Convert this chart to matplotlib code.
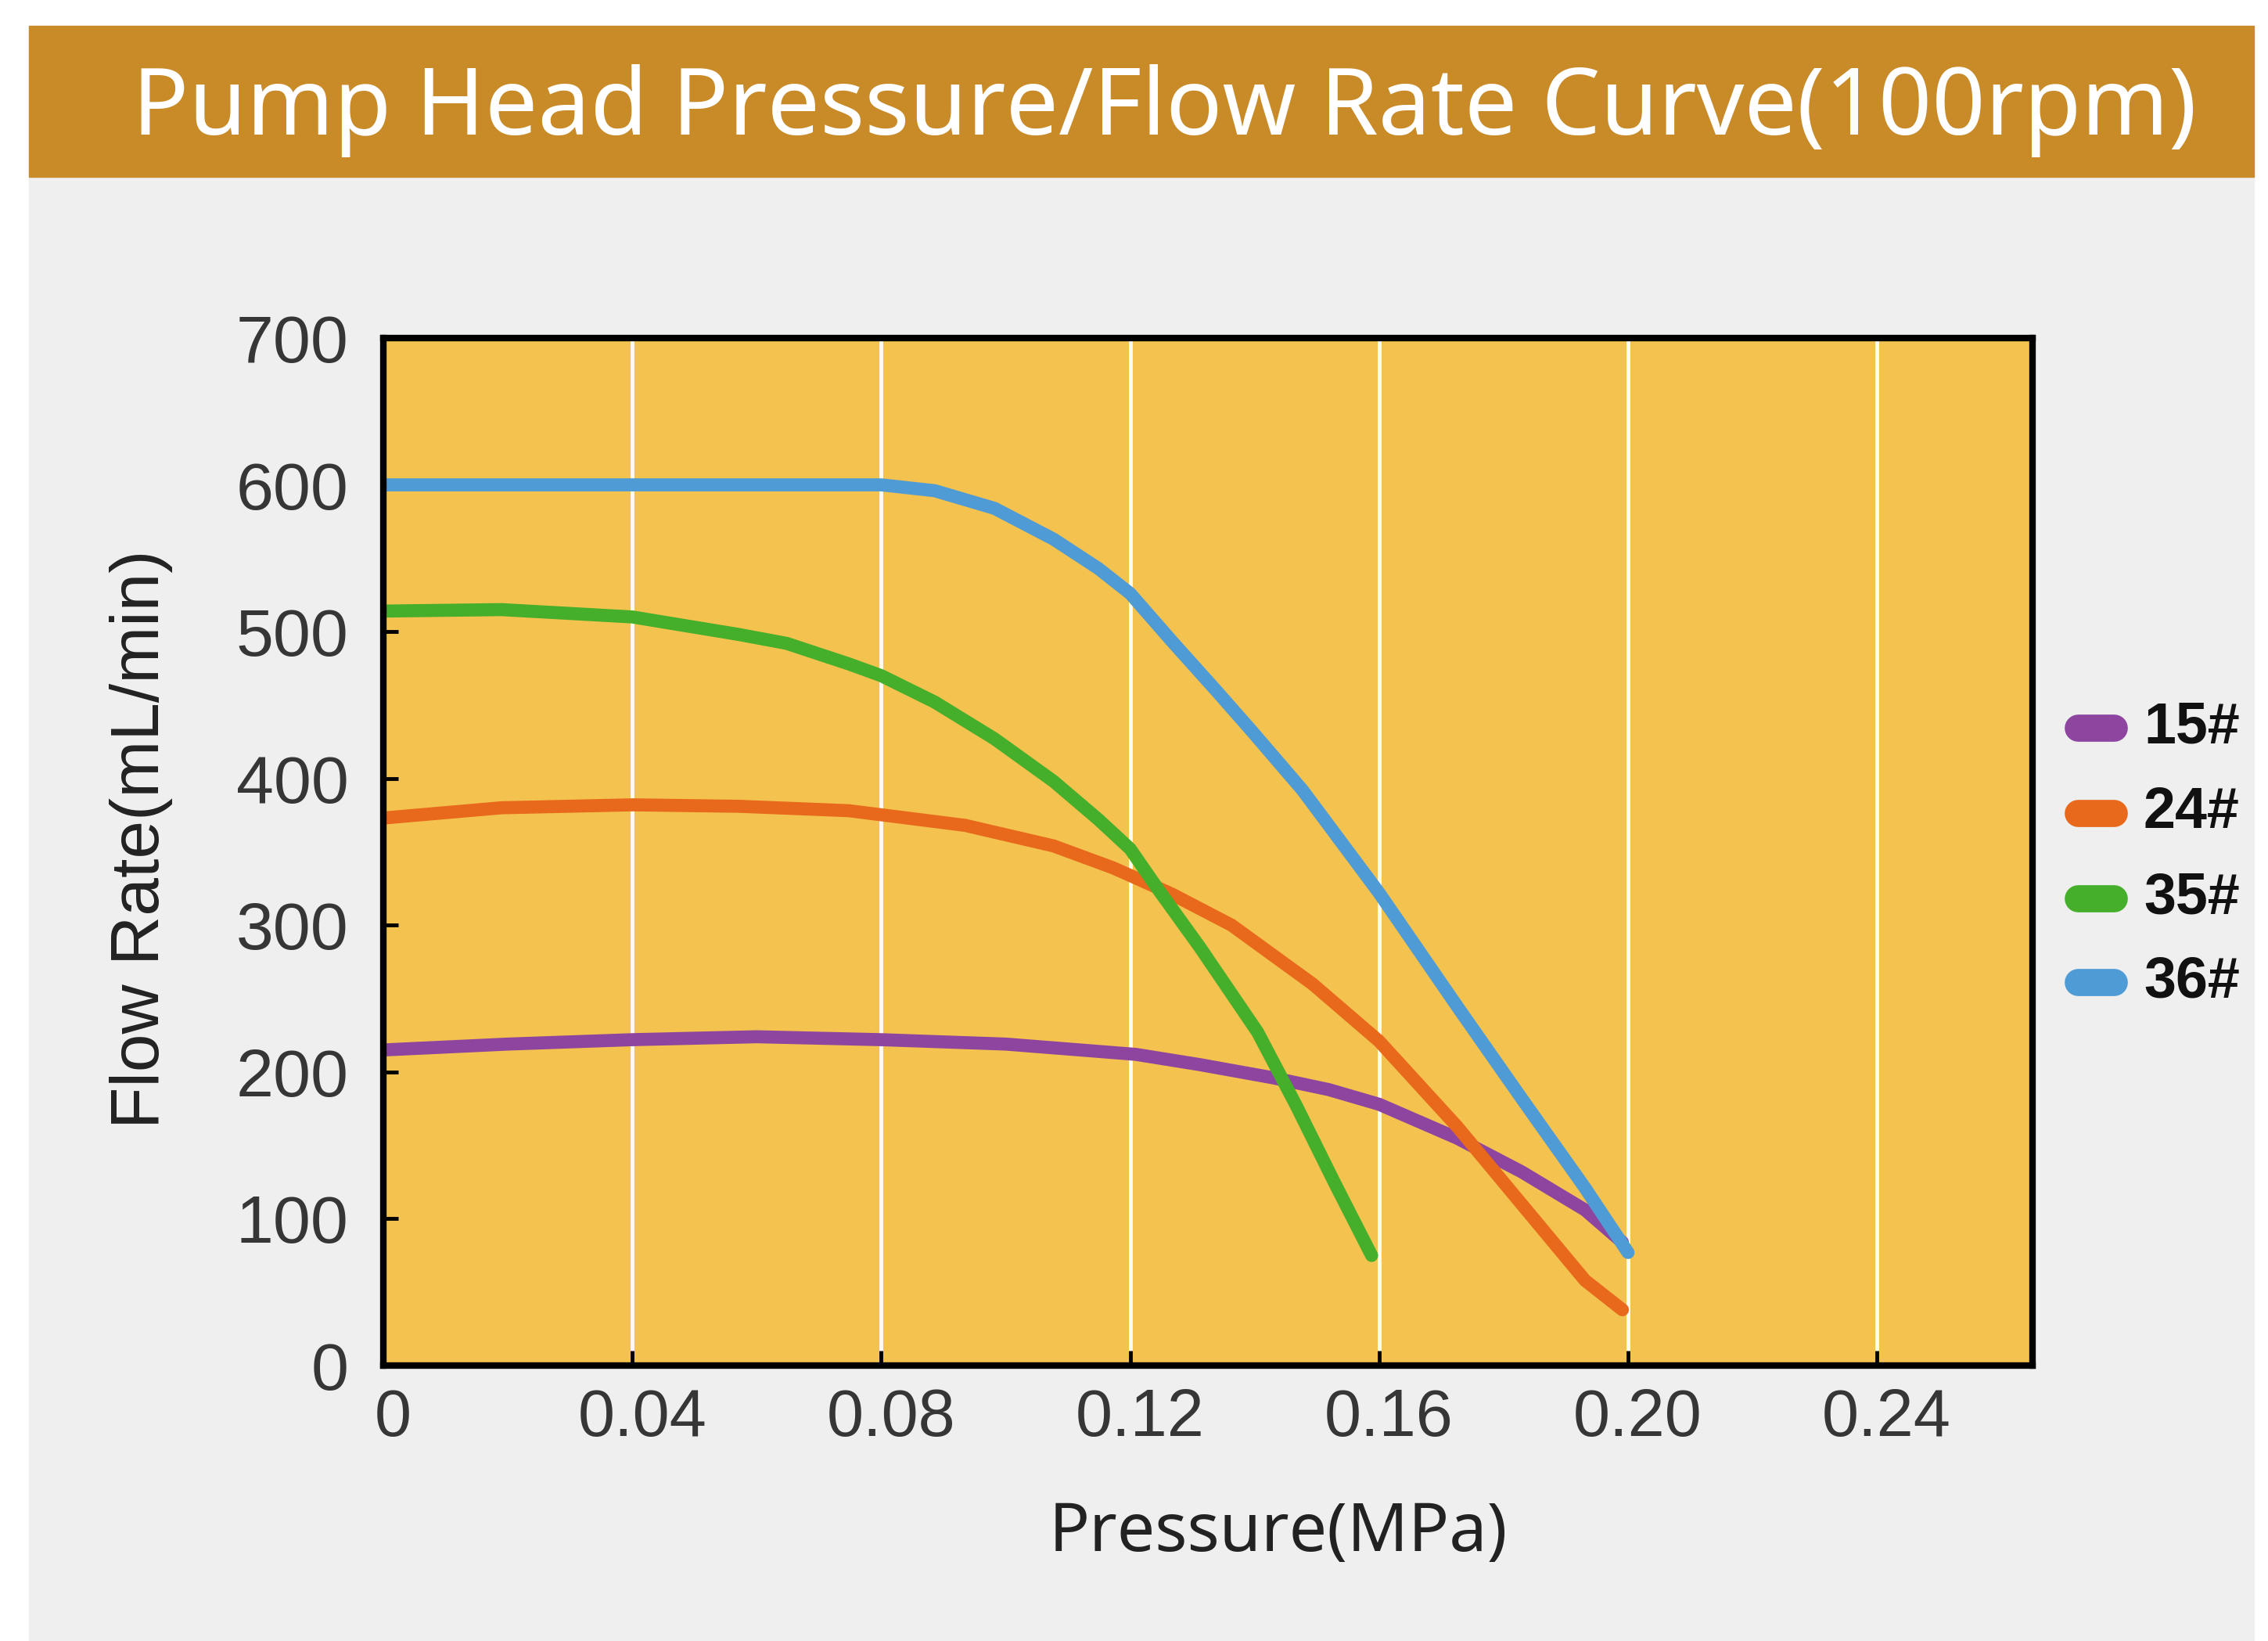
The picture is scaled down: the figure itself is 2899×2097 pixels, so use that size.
import matplotlib
matplotlib.use('Agg')
import matplotlib.pyplot as plt
import matplotlib.transforms as mtransforms
from matplotlib.lines import Line2D
from matplotlib.patches import Rectangle

# Pressure (MPa) / flow rate (mL/min)
p_15 = [0.0, 0.02, 0.04, 0.06, 0.08, 0.10, 0.1209, 0.1312, 0.143, 0.1519, 0.16, 0.1725, 0.1829, 0.1931, 0.1991]
q_15 = [215, 219, 222, 224, 222, 219, 212, 205, 196, 188, 178, 155, 132, 106, 84]

p_24 = [0.0, 0.019, 0.04, 0.0572, 0.0748, 0.0935, 0.1077, 0.1173, 0.1268, 0.1363, 0.1493, 0.16,
        0.1725, 0.1829, 0.1931, 0.1991]
q_24 = [373, 380, 382, 381, 378, 368, 354, 339, 321, 300, 260, 221, 163, 110, 58, 38]

p_35 = [0.0, 0.019, 0.04, 0.0572, 0.0648, 0.0748, 0.08, 0.0886, 0.0982, 0.1077, 0.1149, 0.12,
        0.1244, 0.1312, 0.1405, 0.1467, 0.1529, 0.1588]
q_35 = [514, 515, 510, 498, 492, 478, 470, 452, 427, 398, 372, 352, 325, 285, 227, 177, 124, 75]

p_36 = [0.0, 0.04, 0.08, 0.0886, 0.0982, 0.1077, 0.1149, 0.12, 0.1268, 0.134, 0.1396, 0.1477,
        0.16, 0.1725, 0.1829, 0.1931, 0.20]
q_36 = [600, 600, 600, 596, 584, 563, 543, 526, 493, 459, 432, 392, 322, 245, 182, 121, 77]

labels = ['15#', '24#', '35#', '36#']
colors = ['#8D45A0', '#E8681C', '#45AF2C', '#4E9BD6']

x_ticks = [0, 0.04, 0.08, 0.12, 0.16, 0.20, 0.24]
x_ticklabels = ['0', '0.04', '0.08', '0.12', '0.16', '0.20', '0.24']
y_ticks = [0, 100, 200, 300, 400, 500, 600, 700]

W, H = 2899, 2097
fig = plt.figure(figsize=(W / 100, H / 100), dpi=100)
fig.patch.set_facecolor('white')

# grey panel + title band
fig.add_artist(Rectangle((37 / W, 0), (2881 - 37) / W, 1 - 226 / H,
                         transform=fig.transFigure, color='#EFEFEF', zorder=0))
fig.add_artist(Rectangle((37 / W, 1 - 226 / H), (2881 - 37) / W, (226 - 33) / H,
                         transform=fig.transFigure, color='#C98A28', zorder=0))
fig.text(1488 / W, 1 - 172 / H, 'Pump Head Pressure/Flow Rate Curve(100rpm)',
         ha='center', va='baseline', color='white', fontsize=86,
         family='Noto Sans', weight='medium')

ax = fig.add_axes([490 / W, 1 - 1745 / H, (2598 - 490) / W, (1745 - 432) / H])
ax.set_facecolor('#F4C24F')

series = [(p_15, q_15), (p_24, q_24), (p_35, q_35), (p_36, q_36)]
for (p, q), c in zip(series, colors):
    ax.plot(p, q, color=c, lw=12, solid_capstyle='round', solid_joinstyle='round', zorder=3)

ax.set_xlim(0, 0.265)
ax.set_ylim(0, 700)
ax.set_xticks(x_ticks)
ax.set_xticklabels(x_ticklabels)
ax.set_yticks(y_ticks)
ax.grid(axis='x', color='#FFFBF0', lw=3.5, zorder=1)
ax.grid(axis='y', visible=False)
for s in ax.spines.values():
    s.set_linewidth(6)
    s.set_color('black')
    s.set_zorder(4)
ax.tick_params(direction='in', length=14, width=3.5, color='black', labelcolor='#363636')
ax.tick_params(axis='y', pad=32, labelsize=62)
ax.tick_params(axis='x', pad=20, labelsize=61)
shift = mtransforms.ScaledTranslation(9 / 72, 0, fig.dpi_scale_trans)
for t in ax.get_xticklabels():
    t.set_family('Liberation Sans')
    t.set_transform(t.get_transform() + shift)
for t in ax.get_yticklabels():
    t.set_family('Liberation Sans')

fig.text(181 / W, 1 - 1072 / H, 'Flow Rate(mL/min)', rotation=90, ha='center', va='center',
         fontsize=63, family='Liberation Sans', color='#222222')
fig.text(1634 / W, 1 - 1960 / H, 'Pressure(MPa)', ha='center', va='center',
         fontsize=62, family='Noto Sans', color='#222222')

# legend
leg_y = [930, 1039, 1148, 1255]
for lab, c, y in zip(labels, colors, leg_y):
    fig.add_artist(Line2D([2656 / W, 2702 / W], [1 - y / H, 1 - y / H], transform=fig.transFigure,
                          color=c, lw=25, solid_capstyle='round'))
    fig.text(2740 / W, 1 - y / H, lab, ha='left', va='center', fontsize=53,
             family='Liberation Sans', weight='bold', color='#111111')

fig.savefig('out.png', dpi=100, facecolor=fig.get_facecolor())
